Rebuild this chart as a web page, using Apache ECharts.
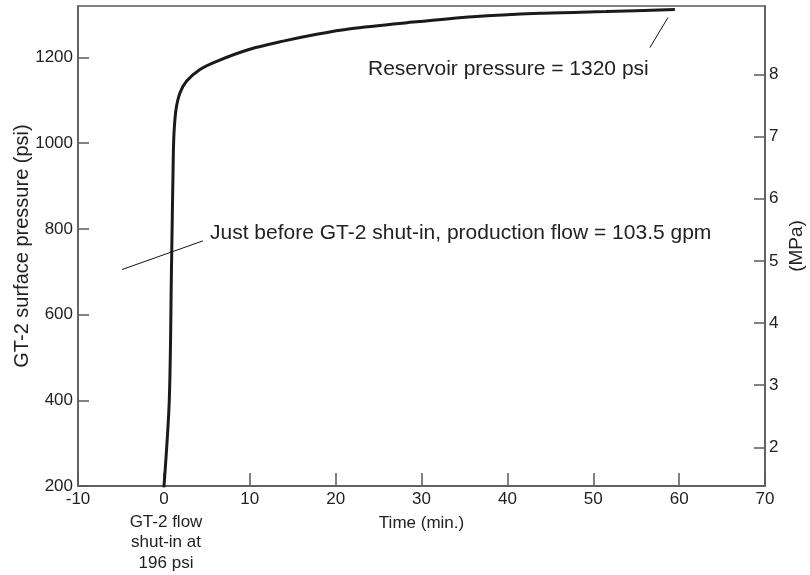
<!DOCTYPE html>
<html>
<head>
<meta charset="utf-8">
<script src="https://cdn.jsdelivr.net/npm/echarts@6/dist/echarts.min.js"></script>
<style>
  html, body { margin: 0; padding: 0; background: #fff; }
  #chart { width: 810px; height: 575px; }
</style>
</head>
<body>
<div id="chart"></div>
<script>
// shut-in pressure build-up
var timeMin = [0, 0.63, 0.88, 1.09, 1.18, 1.41, 1.87, 2.65, 4.2, 6.15, 10.0, 13.9, 17.8, 21.7, 28.3, 36.0, 43.8, 51.5, 59.5];
var pressurePsi = [196, 400, 700, 962, 1024, 1078, 1117, 1145, 1172, 1191, 1219, 1238, 1254, 1267, 1281, 1295, 1303, 1307, 1312];

var xTicks = [-10, 0, 10, 20, 30, 40, 50, 60, 70];
var psiTicks = [200, 400, 600, 800, 1000, 1200];
var mpaTicks = [2, 3, 4, 5, 6, 7, 8];

// leader lines for the two notes [time, psi]
var flowLeader = [[-4.88, 705], [4.55, 772]];
var reservoirLeader = [[58.7, 1293], [56.6, 1223]];

var PSI_PER_MPA = 145.038;
var psiMin = 200, psiMax = 1320;

var textColor = '#222';
var axisColor = '#5a5a5a';
var font = 'Liberation Sans, Arial, sans-serif';

var chart = echarts.init(document.getElementById('chart'));

var pts = [];
for (var i = 0; i < timeMin.length; i++) {
    pts.push([timeMin[i], pressurePsi[i]]);
}

chart.setOption({
    animation: false,
    textStyle: { fontFamily: font },
    grid: {
        left: 78, right: 45, top: 6, bottom: 89,
        outerBoundsMode: 'none',
        containLabel: false,
        show: true,
        borderColor: axisColor,
        borderWidth: 1.5
    },
    xAxis: {
        type: 'value',
        min: -10, max: 70, interval: 10,
        name: 'Time (min.)',
        nameLocation: 'middle',
        nameGap: 29,
        nameMoveOverlap: false,
        nameTextStyle: { fontSize: 17, color: textColor },
        splitLine: { show: false },
        axisLine: { onZero: false, lineStyle: { color: axisColor, width: 1.5 } },
        axisTick: { inside: true, length: 13, lineStyle: { color: axisColor, width: 1.5 } },
        axisLabel: { fontSize: 17, color: textColor, margin: 5, showMinLabel: true, showMaxLabel: true }
    },
    yAxis: [{
        type: 'value',
        min: psiMin, max: psiMax,
        position: 'left',
        name: 'GT-2 surface pressure (psi)',
        nameLocation: 'middle',
        nameGap: 46,
        nameMoveOverlap: false,
        nameTextStyle: { fontSize: 20, color: textColor },
        splitLine: { show: false },
        axisLine: { show: true, onZero: false, lineStyle: { color: axisColor, width: 1.5 } },
        axisTick: { inside: true, length: 11, customValues: psiTicks, lineStyle: { color: axisColor, width: 1.5 } },
        axisLabel: {
            fontSize: 17, color: textColor, margin: 5, customValues: psiTicks,
            formatter: function (v) { return String(v); }
        }
    }, {
        type: 'value',
        min: psiMin / PSI_PER_MPA, max: psiMax / PSI_PER_MPA,
        position: 'right',
        name: '(MPa)',
        nameLocation: 'middle',
        nameGap: 22,
        nameMoveOverlap: false,
        nameTextStyle: { fontSize: 19, color: textColor },
        splitLine: { show: false },
        axisLine: { show: true, onZero: false, lineStyle: { color: axisColor, width: 1.5 } },
        axisTick: { inside: true, length: 11, customValues: mpaTicks, lineStyle: { color: axisColor, width: 1.5 } },
        axisLabel: {
            fontSize: 17, color: textColor, margin: 4, customValues: mpaTicks,
            formatter: function (v) { return String(Math.round(v)); }
        }
    }],
    series: [{
        type: 'line',
        data: pts,
        yAxisIndex: 0,
        showSymbol: false,
        smooth: 0.3,
        lineStyle: { color: '#1a1a1a', width: 3 },
        markLine: {
            silent: true,
            symbol: ['none', 'none'],
            label: { show: false },
            lineStyle: { color: '#111', width: 1, type: 'solid' },
            data: [
                [{ coord: flowLeader[0] }, { coord: flowLeader[1] }],
                [{ coord: reservoirLeader[0] }, { coord: reservoirLeader[1] }]
            ]
        }
    }],
    graphic: [
        {
            type: 'text', left: 210, top: 223,
            style: { text: 'Just before GT-2 shut-in, production flow = 103.5 gpm', fontSize: 21, fontFamily: font, fill: textColor }
        },
        {
            type: 'text', left: 368, top: 59,
            style: { text: 'Reservoir pressure = 1320 psi', fontSize: 21, fontFamily: font, fill: textColor }
        },
        {
            type: 'text', x: 166, y: 512,
            style: {
                text: 'GT-2 flow\nshut-in at\n196 psi',
                fontSize: 17, lineHeight: 20.5, fontFamily: font, fill: textColor,
                align: 'center', verticalAlign: 'top'
            }
        }
    ]
});
</script>
</body>
</html>
